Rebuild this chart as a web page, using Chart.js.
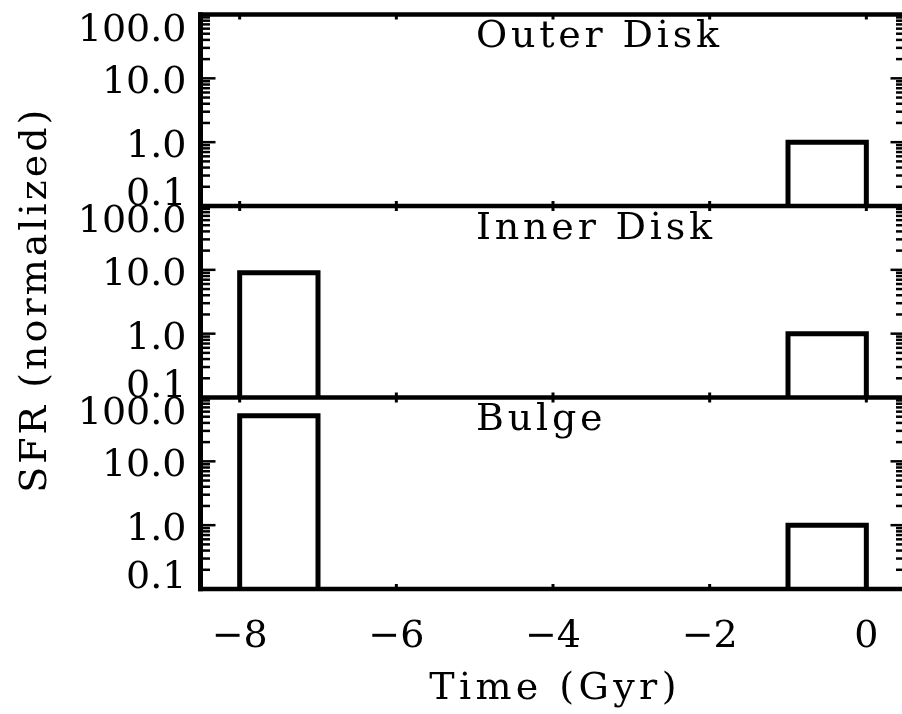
<!DOCTYPE html>
<html>
<head>
<meta charset="utf-8">
<script src="https://cdn.jsdelivr.net/npm/chart.js@4.4.1/dist/chart.umd.min.js"></script>
<style>
  html, body { margin: 0; padding: 0; background: #fff; overflow: hidden; }
  #wrap { width: 902px; height: 714px; overflow: hidden; position: relative; }
  canvas { display: block; }
</style>
</head>
<body>
<div id="wrap"><canvas id="sfr" width="910" height="714"></canvas></div>
<script>
// Star-formation history of three galaxy components, binned in time (Gyr).
const binEdges = [[-8, -7], [-1, 0]];
const outerDisk = [0, 1.0];
const innerDisk = [9, 1.0];
const bulge = [52, 1.0];
const panelNames = ['Outer Disk', 'Inner Disk', 'Bulge'];
const xTicks = [-8, -6, -4, -2, 0];
const xRange = [-8.5, 0.5];
const yTicks = [0.1, 1, 10, 100];
const yTickLabels = ['0.1', '1.0', '10.0', '100.0'];
const yRange = [0.1, 100];
const xTitle = 'Time (Gyr)';
const yTitle = 'SFR (normalized)';

const INK = '#000';
const SERIF = '"DejaVu Serif", "Liberation Serif", serif';
const FONT_PX = 38;

const panels = [
  { id: 'yOuter', name: panelNames[0], values: outerDisk },
  { id: 'yInner', name: panelNames[1], values: innerDisk },
  { id: 'yBulge', name: panelNames[2], values: bulge }
];

// Histogram outline: each non-empty bin becomes a closed-bottom step box.
function outline(values) {
  const pts = [];
  binEdges.forEach(([lo, hi], i) => {
    const v = values[i];
    if (!(v > 0)) return;
    if (pts.length) pts.push({ x: lo, y: null });
    pts.push({ x: lo, y: yRange[0] }, { x: lo, y: v }, { x: hi, y: v }, { x: hi, y: yRange[0] });
  });
  return pts;
}

const datasets = panels.map(p => ({
  label: p.name,
  data: outline(p.values),
  xAxisID: 'x',
  yAxisID: p.id,
  borderColor: INK,
  borderWidth: 5,
  borderJoinStyle: 'miter',
  pointRadius: 0,
  fill: false,
  tension: 0,
  spanGaps: false
}));

const scales = {
  x: {
    type: 'linear',
    position: 'bottom',
    min: xRange[0],
    max: xRange[1],
    afterBuildTicks: s => { s.ticks = xTicks.map(v => ({ value: v })); },
    afterFit: s => { s.height = 125; },
    grid: { display: false, drawTicks: false },
    border: { display: false },
    ticks: {
      autoSkip: false,
      maxRotation: 0,
      padding: 25,
      color: INK,
      font: { family: SERIF, size: FONT_PX, lineHeight: 1.2 },
      callback: v => (v < 0 ? '\u2212' + Math.abs(v) : String(v))
    },
    title: { display: false }
  }
};
// Left-stacked scales are laid out last-first, so add the bottom panel first.
[...panels].reverse().forEach(p => {
  scales[p.id] = {
    type: 'logarithmic',
    position: 'left',
    stack: 'sfr',
    stackWeight: 1,
    min: yRange[0],
    max: yRange[1],
    afterFit: s => { s.width = 0; },
    grid: { display: false, drawTicks: false },
    border: { display: false },
    ticks: { display: false }
  };
});

// Frame, inward tick marks, tick labels, panel names and axis titles.
const framePlugin = {
  id: 'sfrFrame',
  afterDatasetsDraw(chart) {
    const { ctx, chartArea: a, scales: sc } = chart;
    const xs = sc.x;
    ctx.save();
    ctx.strokeStyle = INK;
    ctx.fillStyle = INK;
    ctx.lineCap = 'butt';

    // horizontal frame lines: each panel top plus the bottom edge
    ctx.lineWidth = 4.5;
    const edges = panels.map(p => sc[p.id].top).concat([sc[panels[panels.length - 1].id].bottom]);
    edges.forEach(y => {
      ctx.beginPath(); ctx.moveTo(a.left - 2.5, y); ctx.lineTo(a.right + 2.5, y); ctx.stroke();
    });
    // vertical frame lines
    ctx.lineWidth = 5;
    [a.left, a.right].forEach(x => {
      ctx.beginPath(); ctx.moveTo(x, a.top - 2.25); ctx.lineTo(x, a.bottom + 2.25); ctx.stroke();
    });

    // x ticks on every panel edge, pointing into the panel
    ctx.lineWidth = 3;
    panels.forEach(p => {
      const s = sc[p.id];
      xTicks.forEach(v => {
        const x = xs.getPixelForValue(v);
        ctx.beginPath(); ctx.moveTo(x, s.top); ctx.lineTo(x, s.top + 5); ctx.stroke();
        ctx.beginPath(); ctx.moveTo(x, s.bottom); ctx.lineTo(x, s.bottom - 5); ctx.stroke();
      });
    });

    // log y ticks (major at decades, minor at 2..9)
    ctx.lineWidth = 2.5;
    panels.forEach(p => {
      const s = sc[p.id];
      for (let d = s.min; d < s.max * 0.999; d *= 10) {
        for (let m = 1; m <= 9; m++) {
          const v = d * m;
          if (v <= s.min * 1.0001 || v >= s.max * 0.9999) continue;
          const y = s.getPixelForValue(v);
          const len = m === 1 ? 15 : 9.5;
          ctx.beginPath(); ctx.moveTo(a.left, y); ctx.lineTo(a.left + len, y); ctx.stroke();
          ctx.beginPath(); ctx.moveTo(a.right, y); ctx.lineTo(a.right - len, y); ctx.stroke();
        }
      }
    });

    // y tick labels
    ctx.font = FONT_PX + 'px ' + SERIF;
    ctx.textAlign = 'right';
    ctx.textBaseline = 'alphabetic';
    panels.forEach(p => {
      const s = sc[p.id];
      yTicks.forEach((v, i) => {
        let y = s.getPixelForValue(v);
        if (v >= s.max) y += 12;
        else if (v <= s.min) y -= 15;
        else y += 1;
        ctx.fillText(yTickLabels[i], a.left - 14, y + 14);
      });
    });

    // panel names
    ctx.textAlign = 'left';
    ctx.letterSpacing = '3.8px';
    panels.forEach(p => {
      const s = sc[p.id];
      ctx.fillText(p.name, 476, s.top + 32.5);
    });

    // x axis title
    ctx.letterSpacing = '4.4px';
    ctx.textAlign = 'center';
    ctx.textBaseline = 'middle';
    ctx.fillText(xTitle, (xs.left + xs.right) / 2 + 2, 689);

    // y axis title
    ctx.letterSpacing = '3px';
    ctx.translate(36, (a.top + a.bottom) / 2 - 2);
    ctx.rotate(-Math.PI / 2);
    ctx.fillText(yTitle, 0, 0);
    ctx.restore();
  }
};

new Chart(document.getElementById('sfr'), {
  type: 'line',
  data: { datasets },
  options: {
    responsive: false,
    animation: false,
    devicePixelRatio: 1,
    layout: { padding: { left: 200.5, right: 4.5, top: 14.5, bottom: 0 } },
    plugins: { legend: { display: false }, tooltip: { enabled: false }, title: { display: false } },
    scales
  },
  plugins: [framePlugin]
});
</script>
</body>
</html>
